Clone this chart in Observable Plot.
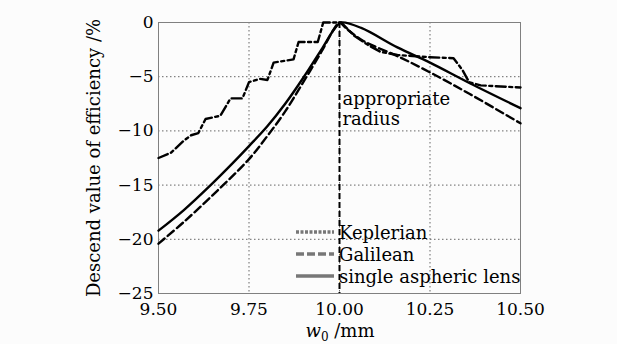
<!DOCTYPE html>
<html><head><meta charset="utf-8">
<script src="https://cdn.jsdelivr.net/npm/d3@7"></script>
<script src="https://cdn.jsdelivr.net/npm/@observablehq/plot@0.6"></script>
<style>
html,body{margin:0;padding:0;background:#fcfcfc;}
#chart{position:relative;width:617px;height:344px;overflow:hidden;}
#legend{position:absolute;left:296px;top:221px;font:18px "DejaVu Serif",serif;color:#000;}
#legend .row{display:flex;align-items:center;height:22px;}
#legend svg{width:40px;height:10px;margin-right:3px;}
</style></head><body><div id="chart"><div id="legend"></div></div>
<script>
// Data
const wKepler = [9.5, 9.535, 9.57, 9.59, 9.61, 9.63, 9.671, 9.699, 9.732, 9.75, 9.78, 9.801, 9.818, 9.873, 9.887, 9.94, 9.955, 10.0, 10.005, 10.04, 10.08, 10.113, 10.16, 10.25, 10.315, 10.34, 10.358, 10.39, 10.5];
const vKepler = [-12.5, -12.0, -10.9, -10.4, -10.2, -8.9, -8.6, -7.0, -7.0, -5.5, -5.2, -5.3, -3.7, -3.4, -1.8, -1.8, 0, 0, 0, -1.2, -2.1, -2.7, -3.0, -3.2, -3.3, -4.4, -5.5, -5.8, -6.0];
const wGalilean = [9.5, 9.57, 9.663, 9.75, 9.8, 9.85, 9.9, 9.95, 9.985, 10.0, 10.02, 10.066, 10.16, 10.25, 10.36, 10.5];
const vGalilean = [-20.4, -18.4, -15.5, -12.6, -10.5, -8.2, -5.5, -2.7, -0.6, 0, -0.6, -1.7, -3.1, -4.6, -6.6, -9.3];
const wSingle = [9.5, 9.57, 9.644, 9.707, 9.75, 9.8, 9.85, 9.9, 9.95, 9.99, 10.005, 10.06, 10.16, 10.25, 10.36, 10.5];
const vSingle = [-19.2, -17.3, -15.0, -12.9, -11.4, -9.6, -7.5, -5.1, -2.5, -0.4, 0, -0.5, -2.3, -3.7, -5.6, -7.9];
const seriesNames = ["Keplerian", "Galilean", "single aspheric lens"];
const xTicks = [9.5, 9.75, 10, 10.25, 10.5];
const xTickLabels = ["9.50", "9.75", "10.00", "10.25", "10.50"];
const yTicks = [0, -5, -10, -15, -20, -25];
const yTickLabels = ["0", "−5", "−10", "−15", "−20", "−25"];
const markerW = [10.0];
const annotation = [{w: 10.0, v: -7.9, text: "appropriate\nradius"}];
const yLabel = "Descend value of efficiency /%";

const toRows = (ws, vs) => ws.map((w, i) => ({w, v: vs[i]}));
const styles = [
  {dash: "10,3.5,3,3.5", legendDash: "3,1.5", curve: "linear"},
  {dash: "8,4", legendDash: "8,3", curve: "catmull-rom"},
  {dash: null, legendDash: null, curve: "catmull-rom"}
];
const series = [toRows(wKepler, vKepler), toRows(wGalilean, vGalilean), toRows(wSingle, vSingle)];

const plot = Plot.plot({
  width: 617, height: 344,
  marginLeft: 158, marginRight: 97, marginTop: 22, marginBottom: 51,
  style: {fontFamily: "DejaVu Serif", fontSize: "17px", background: "transparent", color: "#000"},
  x: {domain: [9.5, 10.5]},
  y: {domain: [-25, 0]},
  marks: [
    Plot.gridX(xTicks.slice(1, -1), {stroke: "#666", strokeOpacity: 1, strokeDasharray: "1.5,2.5", strokeWidth: 1}),
    Plot.gridY(yTicks.slice(1, -1), {stroke: "#666", strokeOpacity: 1, strokeDasharray: "1.5,2.5", strokeWidth: 1}),
    Plot.frame({stroke: "#808080", strokeWidth: 1}),
    Plot.axisX(xTicks, {tickSize: 0, tickPadding: 9, label: null, tickFormat: d => xTickLabels[xTicks.indexOf(d)], fontSize: 17}),
    Plot.axisY(yTicks, {tickSize: 0, tickPadding: 5, tickFormat: d => yTickLabels[yTicks.indexOf(d)], fontSize: 17,
      label: yLabel, labelAnchor: "center", labelOffset: 71, labelArrow: "none"}),
    ...series.map((rows, i) => Plot.line(rows, {x: "w", y: "v", stroke: "#000", strokeWidth: 2.4, curve: styles[i].curve,
      strokeDasharray: styles[i].dash || undefined})),
    Plot.ruleX(markerW, {stroke: "#000", strokeWidth: 2, strokeDasharray: "6,3"}),
    Plot.text(annotation, {x: "w", y: "v", text: "text", textAnchor: "start", dx: 3, fontSize: 18, lineHeight: 1.12})
  ]
});
const chart = document.getElementById("chart");
chart.insertBefore(plot, chart.firstChild);
d3.select(plot).selectAll("[aria-label='y-axis label'] text, [aria-label='y-axis label']").attr("font-size", 18);

// x-axis label with italic w and subscript 0
const svg = d3.select(plot);
const xl = svg.append("text").attr("x", 340).attr("y", 337).attr("text-anchor", "middle")
  .attr("font-family", "DejaVu Serif").attr("font-size", 18).attr("fill", "#000");
xl.append("tspan").attr("font-style", "italic").text("w");
xl.append("tspan").attr("font-size", 12).attr("dy", 4).text("0");
xl.append("tspan").attr("dy", -4).text(" /mm");

// legend
const legend = d3.select("#legend");
seriesNames.forEach((name, i) => {
  const row = legend.append("div").attr("class", "row");
  const s = row.append("svg").attr("viewBox", "0 0 40 10");
  s.append("line").attr("x1", 0).attr("x2", 38).attr("y1", 5).attr("y2", 5)
    .attr("stroke", "#777").attr("stroke-width", 3.5)
    .attr("stroke-dasharray", styles[i].legendDash);
  row.append("span").text(name);
});
</script></body></html>
